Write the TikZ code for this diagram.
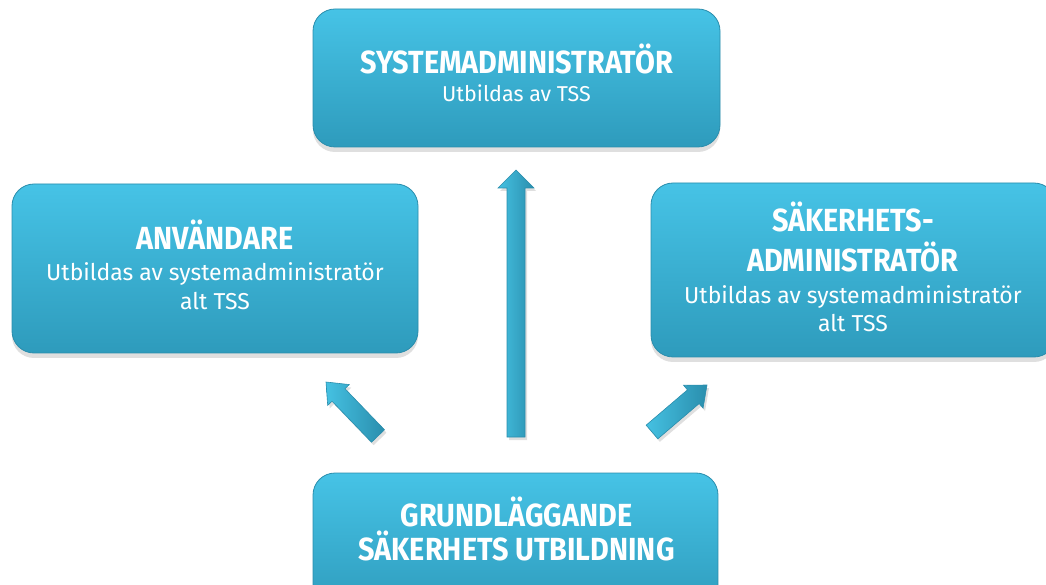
\documentclass[tikz,border=0pt]{standalone}
\usepackage{fontspec}
\setmainfont{Fira Sans}
\newfontfamily\hdfont[FakeStretch=0.90]{Fira Sans Bold}
\newfontfamily\bdfont[FakeStretch=1.0]{Fira Sans}
\usetikzlibrary{calc,shadows}
\definecolor{boxtop}{HTML}{46C3E6}
\definecolor{boxbot}{HTML}{2E9BBC}
\definecolor{boxedge}{HTML}{2A8DAC}
\definecolor{arrlight}{HTML}{45C1E2}
\definecolor{arrdark}{HTML}{2A8EAD}
\tikzset{
  box/.style={rounded corners=22pt, top color=boxtop, bottom color=boxbot,
    draw=boxedge, line width=0.8pt, inner sep=0pt,
    drop shadow={opacity=0.25, shadow xshift=0pt, shadow yshift=-5pt}},
  hd/.style={text=white, font=\hdfont\fontsize{32}{38}\selectfont, anchor=base, inner sep=0pt},
  bd/.style={text=white, font=\bdfont\fontsize{23}{27}\selectfont, anchor=base, inner sep=0pt},
  bdsmall/.style={bd, font=\bdfont\fontsize{21.5}{26}\selectfont},
  barrow/.style={left color=arrlight, right color=arrdark, draw=boxedge, line width=0.6pt,
    drop shadow={opacity=0.25, shadow xshift=2pt, shadow yshift=-3pt}},
}
\newcommand\blockarrow[5]{% tail, tip, shaft half width, head half width, head length
  \coordinate (hb) at ($(#2)!#5!(#1)$);
  \path[barrow] ($(#1)!#3!90:(#2)$) -- ($(hb)!#3!-90:(#1)$) -- ($(hb)!#4!-90:(#1)$) -- (#2)
    -- ($(hb)!#4!90:(#1)$) -- ($(hb)!#3!90:(#1)$) -- ($(#1)!#3!-90:(#2)$) -- cycle;
}
\begin{document}
\begin{tikzpicture}[x=1pt,y=1pt]
\useasboundingbox (0,0) rectangle (1046,584);
\clip (0,0) rectangle (1046,584);
% boxes
\node[box, minimum width=407pt, minimum height=138pt] (sys) at (516.5,506) {};
\node[box, minimum width=406pt, minimum height=169pt] (anv) at (215,315.5) {};
\node[box, minimum width=405pt, minimum height=174pt] (sak) at (853.5,314) {};
\node[box, minimum width=405pt, minimum height=140pt] (gru) at (515.5,41) {};
% texts
\node[hd] (sysH) at (516.5,510) {SYSTEMADMINISTRATÖR};
\node[bdsmall] (sysB) at (516.5,482) {Utbildas av TSS};
\node[hd] (anvH) at (215,334) {ANVÄNDARE};
\node[bd] (anvB1) at (215,303) {Utbildas av systemadministratör};
\node[bd] (anvB2) at (215,274) {alt TSS};
\node[hd] (sakH1) at (853,352) {SÄKERHETS-};
\node[hd] (sakH2) at (853,312) {ADMINISTRATÖR};
\node[bd] (sakB1) at (853,280) {Utbildas av systemadministratör};
\node[bd] (sakB2) at (853,252) {alt TSS};
\node[hd] (gruH1) at (516.5,58) {GRUNDLÄGGANDE};
\node[hd] (gruH2) at (516.5,24) {SÄKERHETS UTBILDNING};
% arrows
\coordinate (tailM) at (516,147);
\coordinate (tipM) at (516,414);
\coordinate (tailL) at (378,148);
\coordinate (tipL) at (326,202);
\coordinate (tailR) at (652,152);
\coordinate (tipR) at (707,199);
\blockarrow{tailM}{tipM}{9pt}{18pt}{18pt}
\blockarrow{tailL}{tipL}{9pt}{15pt}{18pt}
\blockarrow{tailR}{tipR}{9pt}{15pt}{18pt}
\end{tikzpicture}
\end{document}
